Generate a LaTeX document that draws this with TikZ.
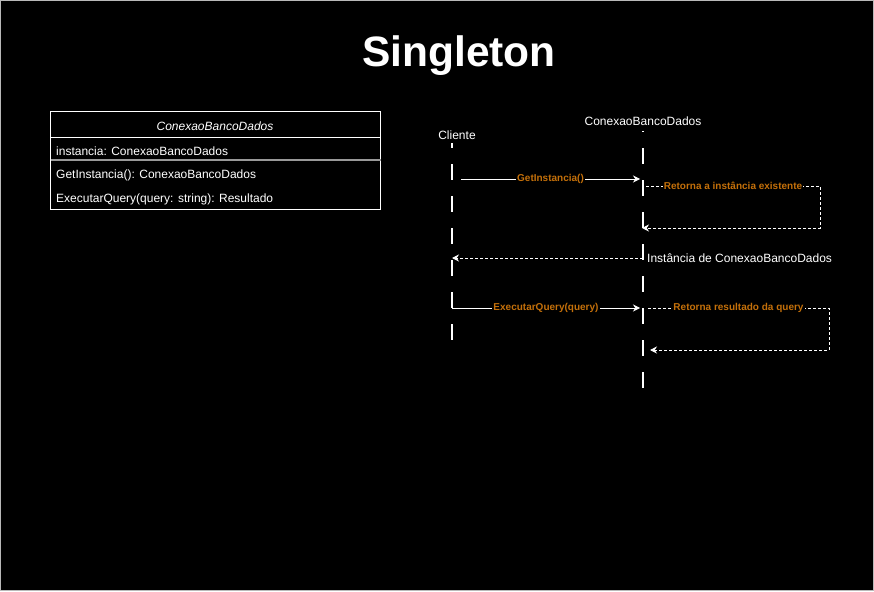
\documentclass[tikz,border=0pt]{standalone}
\usepackage{fontspec}
\setmainfont{Liberation Sans}
\usetikzlibrary{
	arrows.meta,
	positioning
}
\definecolor{msgorange}{RGB}{196,112,10}
\tikzset{
	txt/.style={text=white, font=\fontsize{12}{14}\selectfont, inner sep=1pt},
	msglbl/.style={text=msgorange, font=\bfseries\fontsize{10}{12}\selectfont, fill=black, inner sep=1pt},
	lifeline/.style={white, line width=1.2pt, dash pattern=on 16pt off 16pt},
	call/.style={white, line width=0.8pt, -{Stealth[length=7pt,width=7pt]}},
	reply/.style={white, line width=0.8pt, dash pattern=on 3pt off 2pt, -{Stealth[length=7pt,width=7pt]}}
}

\begin{document}
\begin{tikzpicture}[x=1pt, y=-1pt]
		\fill[black] (0,0) rectangle (874,591);
		\draw[gray!55, line width=1pt] (0.5,0.5) rectangle (873.5,590.5);
		
		\node[text=white, font=\bfseries\fontsize{42.5}{48}\selectfont] (title) at (459,56) {Singleton};
		
		% class box
		\draw[white, line width=0.8pt] (50.5,111.5) rectangle (380.5,209.5);
		\draw[white, line width=0.8pt] (50.5,137.5) -- (380.5,137.5);
		\draw[gray!80, line width=1.2pt] (50.5,160) -- (380.5,160);
		\node[txt, font=\itshape\fontsize{12}{14}\selectfont] (cname) at (215,126) {ConexaoBancoDados};
		\node[txt, anchor=west] (attr) at (55,151) {instancia: ConexaoBancoDados};
		\node[txt, anchor=west] (op1) at (55,175) {GetInstancia(): ConexaoBancoDados};
		\node[txt, anchor=west] (op2) at (55,199) {ExecutarQuery(query: string): Resultado};
		
		% lifelines
		\node[txt] (cliente) at (457,135) {Cliente};
		\node[txt] (conexao) at (643,121) {ConexaoBancoDados};
		\draw[lifeline, dash phase=11pt] (452,143) -- (452,340);
		\draw[lifeline, dash phase=15pt] (643,131) -- (643,388);
		
		\coordinate (c1) at (461,179);
		\coordinate (s1) at (640,179);
		\coordinate (a1) at (646,186);
		\coordinate (b1) at (642,228);
		\coordinate (r1) at (643,258);
		\coordinate (r2) at (452,258);
		\coordinate (c2) at (452,308);
		\coordinate (s2) at (640,308);
		\coordinate (a2) at (648,308);
		\coordinate (b2) at (650,350);
		
		\draw[call] (c1) -- node[msglbl] {GetInstancia()} (s1);
		\draw[reply] (a1) -- node[msglbl] {Retorna a instância existente} (820,186) |- (b1);
		\draw[reply] (r1) -- (r2);
		\node[txt, anchor=west] (ret) at (646,258) {Instância de ConexaoBancoDados};
		\draw[call] (c2) -- node[msglbl] {ExecutarQuery(query)} (s2);
		\draw[reply] (a2) -- node[msglbl] {Retorna resultado da query} (829,308) |- (b2);
	\end{tikzpicture}
\end{document}
